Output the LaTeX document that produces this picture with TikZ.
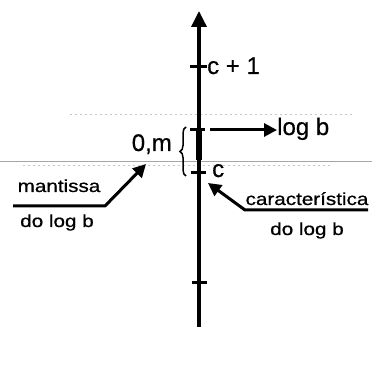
\documentclass[tikz,border=0pt]{standalone}
\usepackage{fontspec}
\setmainfont{Liberation Sans}[FakeBold=0.5]
\newfontfamily\annfont[FakeStretch=1.18,FakeBold=0.7]{Liberation Sans}
\usetikzlibrary{arrows.meta,decorations.pathreplacing}
\begin{document}
\begin{tikzpicture}[x=1pt,y=1pt,
  mainlbl/.style={inner sep=0pt,font=\fontsize{24}{26}\selectfont},
  annlbl/.style={inner sep=0pt,anchor=base,font=\annfont\fontsize{17.5}{19}\selectfont},
  axisline/.style={line width=3.5pt},
  ticksty/.style={line width=3pt},
  arr/.style={line width=3pt,-{Triangle[length=13pt,width=13pt]}},
  guide/.style={gray!70,line width=0.8pt},
  dotguide/.style={gray!45,line width=0.7pt,dash pattern=on 2pt off 3pt}]
\useasboundingbox (0,0) rectangle (372,372);
% faint guide lines
\draw[guide] (0,211) -- (372,211);
\draw[dotguide] (70,258) -- (353,258);
\draw[dotguide] (23,207) -- (333,207);
% axis
\coordinate (abot) at (199,45);
\coordinate (atop) at (199,361);
\draw[axisline,-{Triangle[length=16pt,width=15pt]}] (abot) -- (atop);
% thick segment between c and log b
\coordinate (tlog) at (198.5,242);
\coordinate (tlow) at (198.5,212);
\draw[line width=6pt] (tlow) -- (tlog);
% ticks
\draw[ticksty] (190,305) -- (207,305);
\draw[ticksty] (190,242) -- (205,242);
\draw[ticksty] (191,199) -- (206,199);
\draw[ticksty] (192,89) -- (207,89);
% brace
\draw[line width=1.5pt,decorate,decoration={brace,amplitude=6pt}] (186,196) -- (186,245);
% labels
\node[mainlbl,anchor=base west] (cp1) at (207,298) {c + 1};
\node[mainlbl,anchor=base west] (logb) at (277,237) {log b};
\node[mainlbl,anchor=base east] (om) at (172,221) {0,m};
\node[mainlbl,anchor=base west] (c) at (212,195) {c};
\node[annlbl] (mant) at (59,180) {mantissa};
\node[annlbl] (dolog1) at (57,145) {do log b};
\node[annlbl] (carac) at (307,167) {característica};
\node[annlbl] (dolog2) at (307,137) {do log b};
% arrows
\coordinate (lbstart) at (210,242);
\draw[arr] (lbstart) -- (logb.west |- 0,242);
\coordinate (m0) at (13,166);
\coordinate (m1) at (105,166);
\coordinate (mtip) at (146,208);
\draw[arr,line join=round] (m0) -- (m1) -- (mtip);
\coordinate (k0) at (368,162);
\coordinate (k1) at (245,162);
\coordinate (ktip) at (208,189);
\draw[arr,line join=round] (k0) -- (k1) -- (ktip);
\end{tikzpicture}
\end{document}
